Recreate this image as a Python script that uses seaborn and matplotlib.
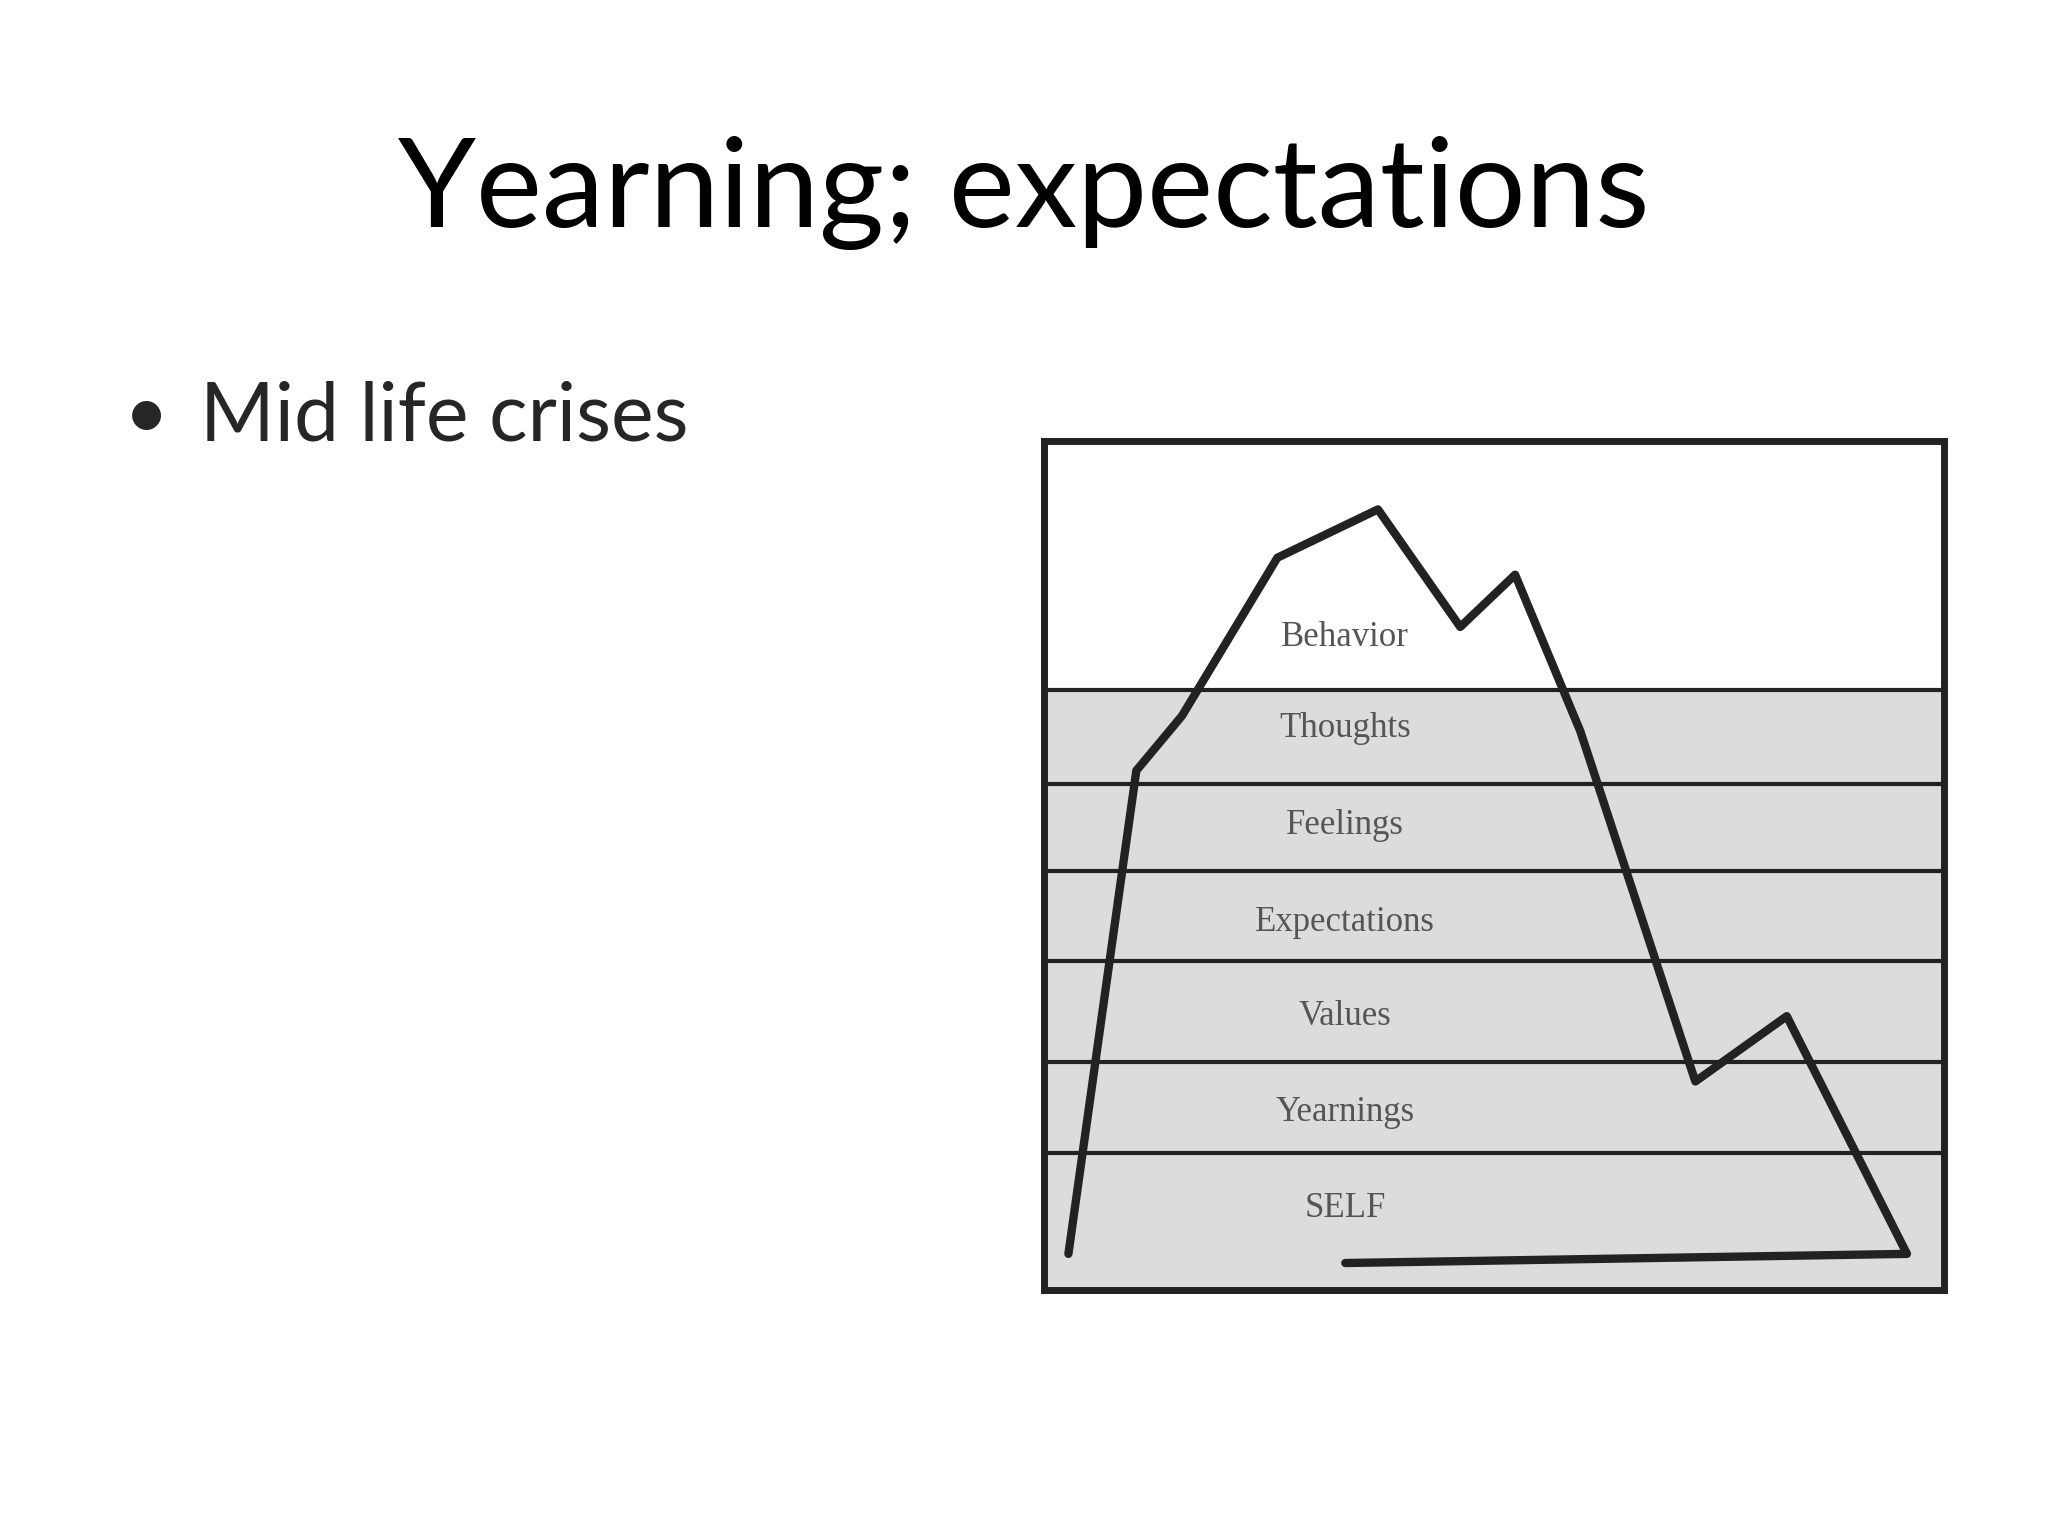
import numpy as np
import matplotlib
matplotlib.use("Agg")
import matplotlib.pyplot as plt
import seaborn as sns

# --- data (in slide pixel units of a 1568x1176 layout) ---
layer_labels = ["Behavior", "Thoughts", "Feelings", "Expectations", "Values", "Yearnings", "SELF"]
label_y = [488, 558, 632, 706, 778, 852, 925]
band_edges = [528, 600, 667, 736, 813, 883]
ice_x = [818, 870, 905, 978, 1055, 1118, 1160, 1210, 1298, 1368, 1460, 1030, 818]
ice_y = [960, 590, 548, 427, 390, 480, 440, 560, 828, 778, 960, 967, 960]

sns.set_theme(style="white")
plt.rcParams['font.family'] = ['Lato', 'DejaVu Sans']

fig = plt.figure(figsize=(20.48, 15.36), dpi=100)
W, H = 1568, 1176

fig.text(0.5, 1 - 148 / H, "Yearning; expectations", ha="center", va="center",
         fontsize=90, color="black")
fig.text(95 / W, 1 - 320 / H, "•", ha="left", va="center", fontsize=56)
fig.text(153 / W, 1 - 320 / H, "Mid life crises", ha="left", va="center", fontsize=58)

x0, x1, y0, y1 = 799, 1488, 338, 988
ax = fig.add_axes([x0 / W, 1 - y1 / H, (x1 - x0) / W, (y1 - y0) / H])
ax.set_xlim(x0, x1)
ax.set_ylim(y1, y0)

ax.axhspan(band_edges[0], y1, color="#dcdcdc", zorder=0)
for e in band_edges:
    ax.axhline(e, color="#222222", lw=3, zorder=1)

sns.lineplot(x=ice_x, y=ice_y, sort=False, ax=ax, color="#222222", lw=6, zorder=3)

for lab, yy in zip(layer_labels, label_y):
    ax.text(1030, yy, lab, ha="center", va="center", fontsize=25, color="#555555",
            family=["Liberation Serif", "DejaVu Serif"], zorder=4)

ax.set_xticks([])
ax.set_yticks([])
for s in ax.spines.values():
    s.set_visible(True)
    s.set_color("#222222")
    s.set_linewidth(5)

fig.savefig("out.png", dpi=100)
